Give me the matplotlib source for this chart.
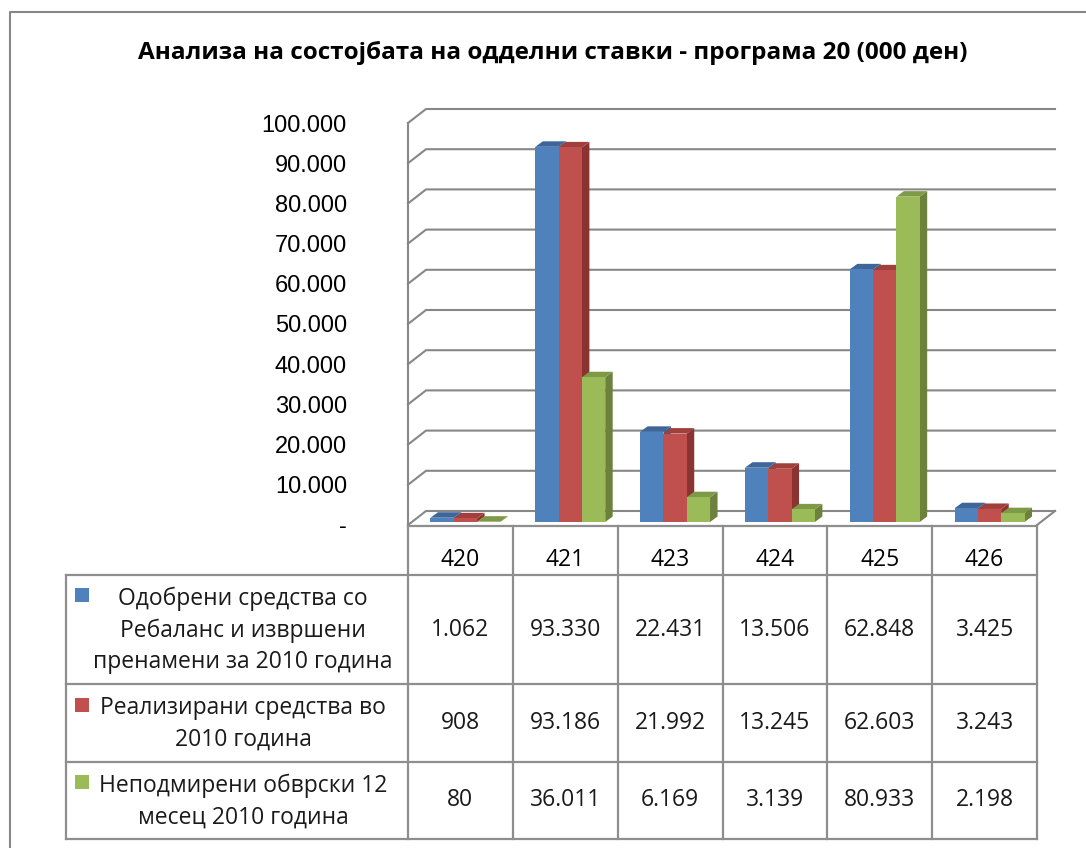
import matplotlib
matplotlib.use("Agg")
import matplotlib.pyplot as plt
from matplotlib.patches import Polygon, Rectangle
from matplotlib.lines import Line2D
import numpy as np

# data
categories = ["420", "421", "423", "424", "425", "426"]
series_names = [
    "Одобрени средства со\nРебаланс и извршени\nпренамени за 2010 година",
    "Реализирани средства во\n2010 година",
    "Неподмирени обврски 12\nмесец 2010 година",
]
approved = [1062, 93330, 22431, 13506, 62848, 3425]
realized = [908, 93186, 21992, 13245, 62603, 3243]
unpaid = [80, 36011, 6169, 3139, 80933, 2198]
title = "Анализа на состојбата на одделни ставки - програма 20 (000 ден)"
y_ticks = list(range(0, 100001, 10000))

colors = ["#4F81BD", "#C0504D", "#9BBB59"]
side_colors = ["#3A5F8E", "#8A3331", "#6C823C"]
top_colors = ["#3E6699", "#A13F3C", "#7E9A47"]
grid_c = "#878787"
text_font = ["Open Sans", "DejaVu Sans"]

W, H = 1086, 848
fig = plt.figure(figsize=(W / 100, H / 100), dpi=100)
fig.patch.set_facecolor("white")

# plot area (front plane)
left_px, right_px, top_px, zero_px = 408, 1037, 123, 525
ax = fig.add_axes([left_px / W, (H - zero_px) / H, (right_px - left_px) / W, (zero_px - top_px) / H])
ax.set_xlim(-0.5, 5.5)
ax.set_ylim(0, 100000)
for s in ax.spines.values():
    s.set_visible(False)
ax.set_xticks([])
ax.set_yticks(y_ticks)
ax.set_yticklabels(["-" if v == 0 else f"{v:,}".replace(",", ".") for v in y_ticks],
                   family=["Liberation Sans"], fontsize=17)
ax.tick_params(axis="y", length=0, pad=44)
ax.patch.set_visible(False)

px_x = (right_px - left_px) / 6.0
px_v = (zero_px - top_px) / 100000.0
wall_dx, wall_dy = 18 / px_x, 14 / px_v

# back wall gridlines with side diagonals
for v in y_ticks:
    ax.plot([-0.5, -0.5 + wall_dx, 5.5 + wall_dx], [v, v + wall_dy, v + wall_dy],
            color=grid_c, lw=1.5, clip_on=False, zorder=1)
ax.plot([5.5 + wall_dx, 5.5], [wall_dy, 0], color=grid_c, lw=1.5, clip_on=False, zorder=1)
ax.plot([-0.5, -0.5], [0, 100000], color=grid_c, lw=1.5, clip_on=False, zorder=1)

# 3d-looking bars
bar_w = 23.3 / px_x
shift = 5 / px_x
base = 3 / px_v
ddx, ddy = 7.5 / px_x, 5.5 / px_v
x = np.arange(len(categories))
z = 3
for i in range(len(categories)):
    for j, vals in enumerate([approved, realized, unpaid]):
        xl = x[i] + shift + (j - 1.5) * bar_w
        xr = xl + bar_w
        v = vals[i]
        top = base + v
        ax.add_patch(Polygon([(xr, base), (xr + ddx, base + ddy), (xr + ddx, top + ddy), (xr, top)],
                             closed=True, facecolor=side_colors[j], edgecolor="none",
                             clip_on=False, zorder=z))
        ax.add_patch(Polygon([(xl, top), (xr, top), (xr + ddx, top + ddy), (xl + ddx, top + ddy)],
                             closed=True, facecolor=top_colors[j], edgecolor="none",
                             clip_on=False, zorder=z))
        ax.bar(xl, v, width=bar_w, bottom=base, align="edge", color=colors[j],
               edgecolor="none", clip_on=False, zorder=z + 0.5)
        z += 1

# data table under the plot, columns follow the category axis
row_edges = [526, 575, 684, 762, 839]
label_left = -0.5 - (left_px - 66) / px_x
tab = fig.add_axes([66 / W, (H - row_edges[-1]) / H, (right_px - 66) / W,
                    (row_edges[-1] - row_edges[0]) / H])
tab.set_xlim(label_left, 5.5)
tab.set_ylim(row_edges[-1], row_edges[0])
tab.axis("off")
tc = "#8E8E8E"
tlw = 1.6
tab.plot([-0.5, 5.5], [row_edges[0]] * 2, color=tc, lw=tlw, clip_on=False)
for y in row_edges[1:]:
    tab.plot([label_left, 5.5], [y, y], color=tc, lw=tlw, clip_on=False)
for k in range(7):
    tab.plot([k - 0.5] * 2, [row_edges[0], row_edges[-1]], color=tc, lw=tlw, clip_on=False)
tab.plot([label_left] * 2, [row_edges[1], row_edges[-1]], color=tc, lw=tlw, clip_on=False)

for i, c in enumerate(categories):
    tab.text(x[i], 560, c, ha="center", va="center", fontsize=16.5, family=text_font)

label_cx = -0.5 + (243 - left_px) / px_x
line_px = 32
for r, (name, vals) in enumerate(zip(series_names, [approved, realized, unpaid])):
    yc = (row_edges[r + 1] + row_edges[r + 2]) / 2
    tab.text(label_cx, yc + 1, name, ha="center", va="center", fontsize=16.5,
             family=text_font, linespacing=1.4, color="#1A1A1A")
    nl = name.count("\n") + 1
    my = yc - (nl - 1) / 2 * line_px - 2.5
    tab.add_patch(Rectangle((-0.5 + (75 - left_px) / px_x, my - 7), 14 / px_x, 14,
                            facecolor=colors[r], edgecolor="none", clip_on=False))
    for i, v in enumerate(vals):
        tab.text(x[i], yc, f"{v:,}".replace(",", "."), ha="center", va="center",
                 fontsize=16.5, family=text_font, color="#1A1A1A")

# title
fig.text(553 / W, 1 - 53 / H, title, ha="center", va="center", fontsize=17.5,
         fontweight="bold", family=text_font)

# chart border (top and left visible)
fig.add_artist(Line2D([10 / W, 10 / W, 1.0], [0.0, 1 - 12 / H, 1 - 12 / H],
                      color=grid_c, lw=1.5, transform=fig.transFigure))

fig.savefig("out.png", dpi=100)
